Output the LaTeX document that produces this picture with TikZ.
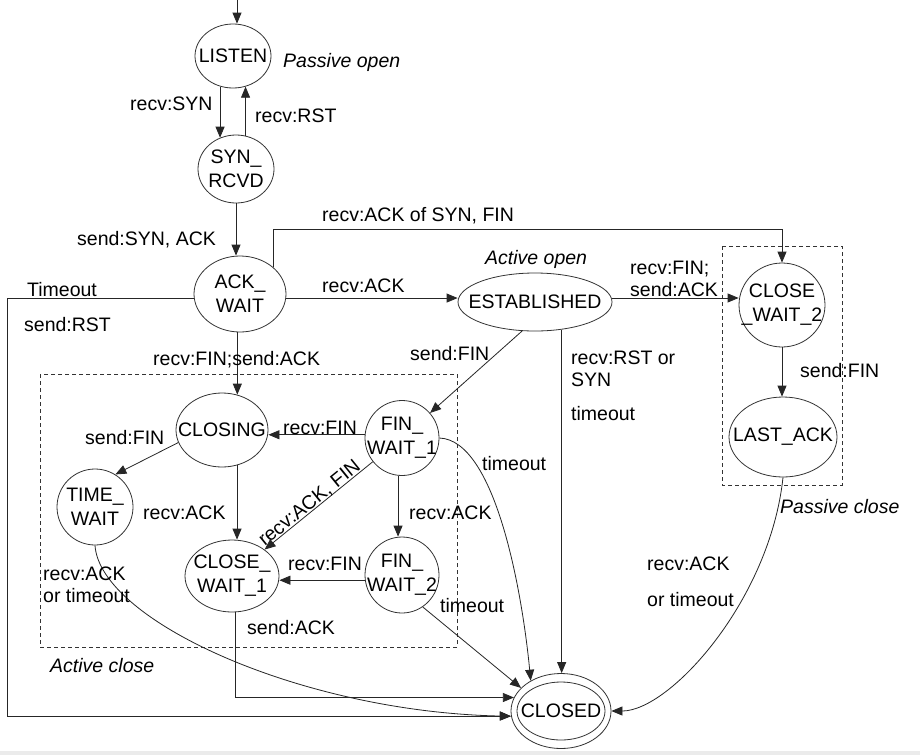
\documentclass[tikz,border=0pt]{standalone}
\usepackage{fontspec}
\setmainfont{Liberation Sans}
\usetikzlibrary{shapes.geometric, arrows.meta}
\begin{document}
\begin{tikzpicture}[x=1pt, y=-1pt,
  font=\fontsize{19.5}{24}\selectfont,
  st/.style={ellipse, draw=black!80, line width=0.8pt, inner sep=0pt},
  arr/.style={draw=black!85, line width=0.8pt, -{Triangle[length=11pt,width=9pt]}},
  lbl/.style={inner sep=0pt, anchor=west, text height=14pt, text depth=0pt},
  itl/.style={lbl, font=\fontsize{19.5}{24}\selectfont\itshape},
  dbox/.style={draw=black!80, line width=0.8pt, dash pattern=on 4pt off 3pt},
  inlbl/.style={align=center, inner sep=0pt}
]
\useasboundingbox (0,0) rectangle (920,755);
\fill[white] (0,0) rectangle (920,755);
\fill[black!8] (0,751) rectangle (920,755);

% dashed regions
\draw[dbox] (40,374) rectangle (457,647);
\draw[dbox] (722,246) rectangle (842,485);

% states
\node[st, minimum width=76pt, minimum height=64pt, label={[inlbl]center:LISTEN}] (LISTEN) at (233,56) {};
\node[st, minimum width=76pt, minimum height=68pt, label={[inlbl]center:SYN\_\\RCVD}] (SYN) at (236,169) {};
\node[st, minimum width=92pt, minimum height=76pt, label={[inlbl]center:ACK\_\\WAIT}] (ACK) at (240,294) {};
\node[st, minimum width=154pt, minimum height=58pt, label={[inlbl]center:ESTABLISHED}] (EST) at (535,302) {};
\node[st, minimum width=86pt, minimum height=84pt, label={[inlbl]center:CLOSE\\\_WAIT\_2}] (CW2) at (782,305) {};
\node[st, minimum width=108pt, minimum height=80pt, label={[inlbl]center:LAST\_ACK}] (LA) at (783,437) {};
\node[st, minimum width=92pt, minimum height=74pt, label={[inlbl]center:CLOSING}] (CLOSING) at (222,430) {};
\node[st, minimum width=74pt, minimum height=75pt, label={[inlbl]center:FIN\_\\WAIT\_1}] (FW1) at (402,438) {};
\node[st, minimum width=76pt, minimum height=76pt, label={[inlbl]center:TIME\_\\WAIT}] (TW) at (95,507) {};
\node[st, minimum width=94pt, minimum height=72pt, label={[inlbl]center:CLOSE\_\\WAIT\_1}] (CW1) at (232,576) {};
\node[st, minimum width=74pt, minimum height=76pt, label={[inlbl]center:FIN\_\\WAIT\_2}] (FW2) at (402,575) {};
\node[st, minimum width=100pt, minimum height=75pt, label={[inlbl]center:CLOSED}] (CLOSED) at (561,711) {};
\draw[draw=black!80, line width=0.8pt] (CLOSED.center) ellipse [x radius=44pt, y radius=29pt];

% helper coordinates
\coordinate (start) at (237,0);
\coordinate (topy) at (0,229);
\coordinate (lft) at (7,716);

% connectors
\draw[arr] (start) -- (start |- LISTEN.north);
\draw[arr] (LISTEN.-113.4) -- (LISTEN.-113.4 |- SYN.117.5);
\draw[arr] (SYN.74.7) -- (SYN.74.7 |- LISTEN.-68.5);
\draw[arr] (SYN.south) -- (SYN.south |- ACK.north);
\draw[arr] (ACK.39) -- (ACK.39 |- topy) -- (CW2.north |- topy) -- (CW2.north);
\draw[arr] (ACK.-5) -- (ACK.-5 -| EST.west);
\draw[arr] (ACK.185) -| (lft) -- (lft -| CLOSED.west);
\draw[arr] (ACK.-94) -- (ACK.-94 |- CLOSING.67);
\draw[arr] (EST.-114) -- (FW1);
\draw[arr] (EST.-46.4) -- (EST.-46.4 |- CLOSED.north);
\draw[arr] (EST.3) -- (EST.3 -| CW2.west);
\draw[arr] (CW2.south) -- (CW2.south |- LA.north);
\draw[arr] (LA.south) .. controls (770,600) and (670,711) .. (CLOSED.east);
\draw[arr] (FW1.175) -- (FW1.175 -| CLOSING.east);
\draw[arr] (FW1) -- node[sloped, above, pos=0.54, inner sep=1.5pt, text height=14pt, text depth=0pt] (lackfin) {recv:ACK, FIN} (CW1);
\draw[arr] (CLOSING.-67) -- (CLOSING.-67 |- CW1.north);
\draw[arr] (CLOSING.196) -- (TW.58);
\draw[arr] (FW1.-96) -- (FW1.-96 |- FW2.north);
\draw[arr] (FW2.188) -- (FW2.188 -| CW1.east);
\draw[arr] (FW1.east) .. controls (495,440) and (522,590) .. (CLOSED.135);
\draw[arr] (FW2.-57) -- (CLOSED.150);
\draw[arr] (TW.south) .. controls (100,620) and (300,712) .. (CLOSED.186);
\draw[arr] (CW1.-84) |- (CLOSED.164.5);

% labels
\node[itl] (lPO) at (283,60) {Passive open};
\node[lbl] (l1) at (130,103) {recv:SYN};
\node[lbl] (l2) at (255,115) {recv:RST};
\node[lbl] (l3) at (77,238) {send:SYN, ACK};
\node[lbl] (l4) at (322,214) {recv:ACK of SYN, FIN};
\node[lbl] (l5) at (27,289) {Timeout};
\node[lbl] (l6) at (24,324) {send:RST};
\node[lbl] (l7) at (322,285) {recv:ACK};
\node[itl] (lAO) at (485,257) {Active open};
\node[lbl] (l8) at (630,267) {recv:FIN;};
\node[lbl] (l9) at (630,289) {send:ACK};
\node[lbl] (l10) at (410,353) {send:FIN};
\node[lbl] (l11) at (571,357) {recv:RST or};
\node[lbl] (l12) at (571,379) {SYN};
\node[lbl] (l13) at (571,413) {timeout};
\node[lbl] (l14) at (800,370) {send:FIN};
\node[lbl] (l15) at (153,358) {recv:FIN;send:ACK};
\node[lbl] (l16) at (85,437) {send:FIN};
\node[lbl] (l17) at (283,427) {recv:FIN};
\node[lbl] (l18) at (143,512) {recv:ACK};
\node[lbl] (l19) at (409,512) {recv:ACK};
\node[lbl] (l20) at (482,463) {timeout};
\node[lbl] (l21) at (288,563) {recv:FIN};
\node[lbl] (l22) at (43,573) {recv:ACK};
\node[lbl] (l23) at (43,595) {or timeout};
\node[lbl] (l24) at (247,627) {send:ACK};
\node[lbl] (l25) at (440,605) {timeout};
\node[itl] (lAC) at (50,665) {Active close};
\node[itl] (lPC) at (780,506) {Passive close};
\node[lbl] (l26) at (647,563) {recv:ACK};
\node[lbl] (l27) at (647,599) {or timeout};
\end{tikzpicture}
\end{document}
